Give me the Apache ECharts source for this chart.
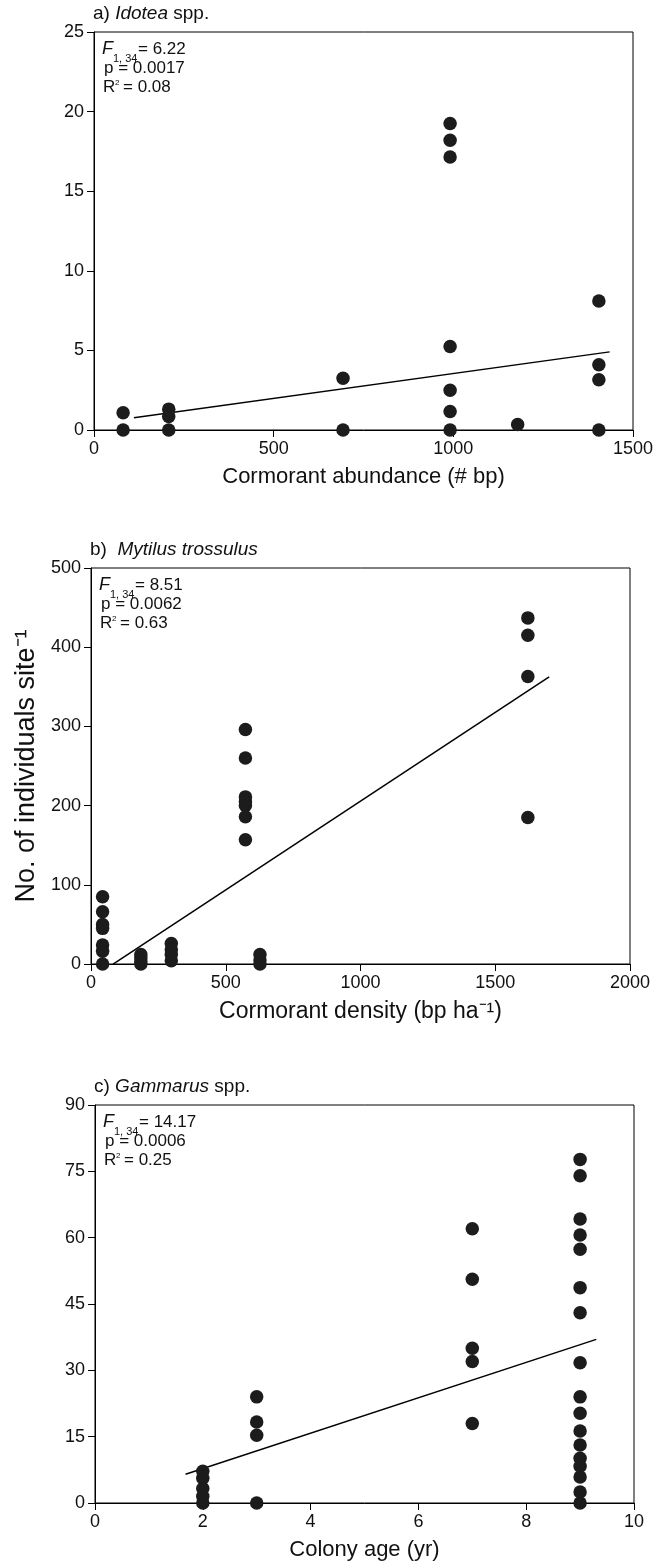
<!DOCTYPE html>
<html>
<head>
<meta charset="utf-8">
<title>Cormorant colonies and invertebrates</title>
<script src="https://cdn.jsdelivr.net/npm/echarts@6/dist/echarts.min.js"></script>
<style>
  html, body { margin: 0; padding: 0; background: #fff; }
  #chart { width: 667px; height: 1562px; }
</style>
</head>
<body>
<div id="chart"></div>
<script>
// a) Idotea spp. vs cormorant abundance (# breeding pairs)
const idoteaX = [81, 81, 208, 208, 208, 693, 693, 991, 991, 991, 991, 991, 991, 991, 1179, 1405, 1405, 1405, 1405];
const idoteaY = [1.08, 0, 1.31, 0.85, 0, 3.25, 0, 19.25, 18.2, 17.15, 5.25, 2.5, 1.16, 0, 0.34, 8.1, 4.1, 3.15, 0];
const idoteaFit = { slope: 0.00312, intercept: 0.43, from: 111, to: 1435 };
const idoteaStats = ['6.22', '0.0017', '0.08'];

// b) Mytilus trossulus vs cormorant density (bp ha-1)
const mytilusX = [43, 43, 43, 43, 43, 43, 43, 185, 185, 185, 185, 298, 298, 298, 298,
                  573, 573, 573, 573, 573, 573, 573, 627, 627, 627, 1621, 1621, 1621, 1621];
const mytilusY = [85, 66, 50, 45, 24, 16, 0, 12, 8, 3, 0, 26, 18, 12, 4,
                  296, 260, 211, 205, 200, 186, 157, 12, 5, 0, 437, 415, 363, 185];
const mytilusFit = { slope: 0.224, intercept: -18.4, from: 82, to: 1700 };
const mytilusStats = ['8.51', '0.0062', '0.63'];

// c) Gammarus spp. vs colony age (yr)
const gammarusX = [2, 2, 2, 2, 2, 3, 3, 3, 3, 7, 7, 7, 7, 7,
                   9, 9, 9, 9, 9, 9, 9, 9, 9, 9, 9, 9, 9, 9, 9, 9, 9];
const gammarusY = [0, 1.5, 3.3, 5.6, 7.2, 24, 18.3, 15.3, 0, 62, 50.6, 35, 32, 18,
                   77.7, 74, 64.2, 60.6, 57.4, 48.7, 43, 31.7, 24, 20.3, 16.3, 13.1, 10.1, 8.3, 5.9, 2.5, 0];
const gammarusFit = { slope: 4.0, intercept: -0.2, from: 1.68, to: 9.3 };
const gammarusStats = ['14.17', '0.0006', '0.25'];

// axis ranges and tick steps
const xRanges = [[0, 1500, 500], [0, 2000, 500], [0, 10, 2]];
const yRanges = [[0, 25, 5], [0, 500, 100], [0, 90, 15]];
const xTitles = ['Cormorant abundance (# bp)', 'Cormorant density (bp ha\u207B\u00B9)', 'Colony age (yr)'];
const yTitle = 'No. of individuals site\u207B\u00B9';
const panelLetters = ['a)', 'b) ', 'c)'];
const panelTaxa = ['Idotea', 'Mytilus trossulus', 'Gammarus'];
const panelSuffix = [' spp.', '', ' spp.'];

const FONT = '"Liberation Sans", Arial, Helvetica, sans-serif';
const INK = '#111';
const DOT = '#1c1c1c';

// panel frames
const grids = [
  { left: 94, top: 32, width: 539, height: 398 },
  { left: 91, top: 568, width: 539, height: 396 },
  { left: 95, top: 1105, width: 539, height: 398 }
];

const pairs = (xs, ys) => xs.map((x, i) => [x, ys[i]]);
const fitLine = f => [[f.from, f.intercept + f.slope * f.from], [f.to, f.intercept + f.slope * f.to]];

const panels = [
  { pts: pairs(idoteaX, idoteaY), fit: idoteaFit, stats: idoteaStats },
  { pts: pairs(mytilusX, mytilusY), fit: mytilusFit, stats: mytilusStats },
  { pts: pairs(gammarusX, gammarusY), fit: gammarusFit, stats: gammarusStats }
];

function axisBase() {
  return {
    axisLine: { show: true, onZero: false, lineStyle: { color: '#000', width: 1 } },
    axisTick: { show: true, inside: false, length: 7, lineStyle: { color: '#000', width: 1 } },
    axisLabel: { color: INK, fontSize: 18, fontFamily: FONT, margin: 10, formatter: v => String(v) },
    splitLine: { show: false }
  };
}

const option = {
  backgroundColor: '#fff',
  animation: false,
  grid: grids.map(g => Object.assign({ show: true, borderColor: '#000', borderWidth: 1, containLabel: false }, g)),
  xAxis: xRanges.map((r, i) => Object.assign(axisBase(), {
    type: 'value', gridIndex: i, min: r[0], max: r[1], interval: r[2],
    name: xTitles[i], nameLocation: 'middle', nameGap: 36,
    nameTextStyle: { fontSize: i === 1 ? 23 : 22, color: INK, fontFamily: FONT }
  })),
  yAxis: yRanges.map((r, i) => Object.assign(axisBase(), {
    type: 'value', gridIndex: i, min: r[0], max: r[1], interval: r[2],
    name: i === 1 ? yTitle : '', nameLocation: 'middle', nameGap: 47,
    nameTextStyle: { fontSize: 27, color: INK, fontFamily: FONT }
  })),
  title: grids.map((g, i) => ({
    left: g.left - 1, top: g.top - 29, padding: 0,
    text: '{n|' + panelLetters[i] + ' }{i|' + panelTaxa[i] + '}{n|' + panelSuffix[i] + '}',
    textStyle: {
      fontWeight: 'normal',
      rich: {
        n: { fontSize: 19, fontFamily: FONT, color: INK, fontWeight: 'normal', lineHeight: 22 },
        i: { fontSize: 19, fontFamily: FONT, color: INK, fontWeight: 'normal', fontStyle: 'italic', lineHeight: 22 }
      }
    }
  })),
  graphic: [],
  series: []
};

panels.forEach((p, i) => {
  option.series.push({
    type: 'scatter', xAxisIndex: i, yAxisIndex: i, data: p.pts,
    symbol: 'circle', symbolSize: 13.5, itemStyle: { color: DOT, opacity: 1 }, z: 3, silent: true
  });
  option.series.push({
    type: 'line', xAxisIndex: i, yAxisIndex: i, data: fitLine(p.fit),
    showSymbol: false, lineStyle: { color: '#000', width: 1.5 }, z: 2, silent: true
  });

  // regression statistics block in the upper-left corner of each panel
  const g = grids[i];
  const x0 = g.left + 8, top = g.top;
  const txt = (x, y, s, size, style) => ({
    type: 'text', x: x, y: y, silent: true,
    style: { text: s, fill: INK, font: (style || '') + ' ' + size + 'px ' + FONT, verticalAlign: 'top', align: 'left' }
  });
  option.graphic.push(txt(x0, top + 8, 'F', 18, 'italic'));
  option.graphic.push(txt(x0 + 11, top + 21, '1, 34', 11));
  option.graphic.push(txt(x0 + 36, top + 9, '= ' + p.stats[0], 17));
  option.graphic.push(txt(x0 + 2, top + 28, 'p = ' + p.stats[1], 17));
  option.graphic.push(txt(x0 + 1, top + 47, 'R', 17));
  option.graphic.push(txt(x0 + 13, top + 47, '2', 8));
  option.graphic.push(txt(x0 + 21, top + 47, '= ' + p.stats[2], 17));
});

const chart = echarts.init(document.getElementById('chart'), null, { renderer: 'canvas' });
chart.setOption(option);
</script>
</body>
</html>
